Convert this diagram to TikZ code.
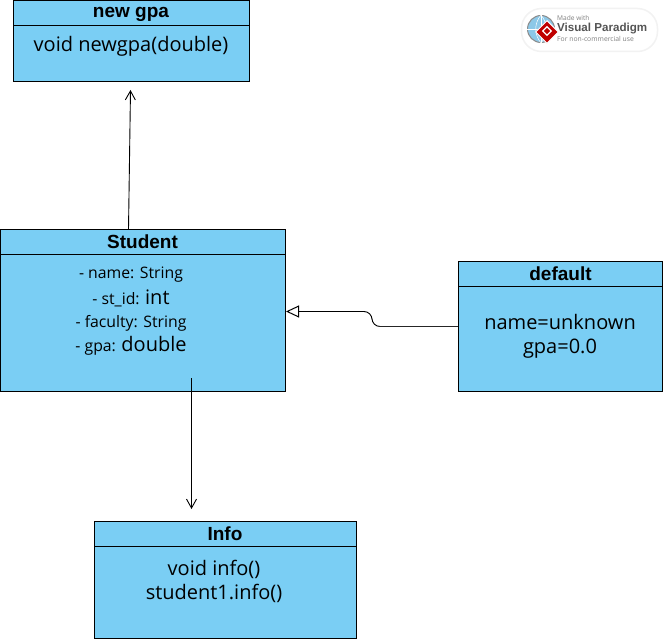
\documentclass[tikz,border=0pt]{standalone}
\usepackage{fontspec}
\setmainfont{Open Sans}
\newfontfamily\hdfont{Liberation Sans}
\usetikzlibrary{arrows.meta,shapes.geometric}
\definecolor{boxblue}{HTML}{7ACEF4}
\definecolor{vpgrey}{HTML}{555555}
\definecolor{globeblue}{HTML}{8CC8E8}
\tikzset{
  x=1pt,y=-1pt,
  umlbox/.style={draw=black,fill=boxblue,line width=1pt,minimum width=#1,inner sep=0pt,outer sep=0pt},
  umltitle/.style={font=\hdfont\bfseries\fontsize{19}{21}\selectfont,text=black,inner sep=0pt},
  bodytext/.style={font=\fontsize{20}{25}\selectfont,text=black,align=center,inner sep=0pt},
  smalltext/.style={font=\fontsize{15.8}{23}\selectfont,text=black,align=center,inner sep=0pt},
  divider/.style={draw=black,line width=0.9pt},
  link/.style={draw=black,line width=0.9pt},
  openhead/.style={-{Straight Barb[length=9pt,width=10pt,line width=0.9pt]}},
  inherit/.style={-{Triangle[open,fill=white,length=13pt,width=12pt,line width=1pt]},rounded corners=8pt},
}
\begin{document}
\begin{tikzpicture}
\useasboundingbox (0,0) rectangle (663,639);
% boxes
\node[umlbox=236pt,minimum height=81pt] (gpa) at (131,40.75) {};
\draw[divider] (gpa.west |- 0,25) coordinate (gpaL) -- (gpa.east |- 0,25) coordinate (gpaR);
\node[umltitle] (gpat) at (131,14) {new gpa};
\node[bodytext] (gpab) at (131,46) {void newgpa(double)};

\node[umlbox=285pt,minimum height=162pt] (student) at (142.5,310.5) {};
\draw[divider] (student.west |- 0,254) coordinate (stL) -- (student.east |- 0,254) coordinate (stR);
\node[umltitle] (stt) at (142.5,241.5) {Student};
\node[smalltext,anchor=center] (st1) at (131,275) {- name: String};
\node[smalltext,anchor=center] (st2) at (131,298) {- st\_id: {\fontsize{20}{23}\selectfont int}};
\node[smalltext,anchor=center] (st3) at (131,323) {- faculty: String};
\node[smalltext,anchor=center] (st4) at (131,345.5) {- gpa: {\fontsize{20}{23}\selectfont double}};

\node[umlbox=204pt,minimum height=130pt] (def) at (560.5,326.5) {};
\draw[divider] (def.west |- 0,286) coordinate (dfL) -- (def.east |- 0,286) coordinate (dfR);
\node[umltitle] (deft) at (560.5,273.5) {default};
\node[bodytext] (defb) at (560,336) {name=unknown\\[-1pt]gpa=0.0};

\node[umlbox=262pt,minimum height=117pt] (info) at (225,579.5) {};
\draw[divider] (info.west |- 0,546) coordinate (inL) -- (info.east |- 0,546) coordinate (inR);
\node[umltitle] (infot) at (225,533.5) {Info};
\node[bodytext] (infob) at (214,581) {void info()\\[-1pt]student1.info()};

% connectors
\coordinate (a1) at (128.5,229.5);
\coordinate (a2) at (130.5,90);
\draw[link,openhead] (a1) -- (a2);
\coordinate (b1) at (191.5,378);
\coordinate (b2) at (191.5,509);
\draw[link,openhead] (b1) -- (b2);
\coordinate (c1) at (458,326.5);
\coordinate (c2) at (372,326.5);
\coordinate (c3) at (372,311.5);
\coordinate (c4) at (286,311.5);
\coordinate (c5) at (379,326.5);
\draw[link,inherit] (c1) -- (c2) -- (c3) -- (c4);
\draw[draw=black!85,line width=1.7pt] (c1) -- (c5);

% logo
\node[draw=black!5,fill=white,rounded corners=20pt,minimum width=136pt,minimum height=43pt,inner sep=0pt,line width=1.5pt] (logo) at (589.5,30) {};
\node[circle,draw=black!45,fill=globeblue,minimum size=27pt,inner sep=0pt,line width=1pt] (globe) at (541,29) {};
\draw[white,line width=0.5pt] (globe.west) -- (globe.east);
\draw[white,line width=0.5pt] (globe.north) -- (globe.south);
\draw[white,line width=0.5pt] (globe.north) to[bend left=40] (globe.south);
\draw[white,line width=0.5pt] (globe.north) to[bend right=40] (globe.south);
\node[diamond,fill=red!75!black,draw=white,line width=1pt,minimum size=23pt,inner sep=0pt] (mark) at (547,32) {};
\node[diamond,draw=white,line width=1.2pt,minimum size=9pt,inner sep=0pt] (markin) at (547,31) {};
\node[font=\fontsize{6.6}{7}\selectfont,text=black!50,anchor=west,inner sep=0pt] (vp1) at (557,18) {Made with};
\node[font=\hdfont\bfseries\fontsize{11.6}{12}\selectfont,text=vpgrey,anchor=west,inner sep=0pt] (vp2) at (557,28.5) {Visual Paradigm};
\node[font=\fontsize{6.8}{7}\selectfont,text=black!50,anchor=west,inner sep=0pt] (vp3) at (557,39) {For non-commercial use};
\end{tikzpicture}
\end{document}
